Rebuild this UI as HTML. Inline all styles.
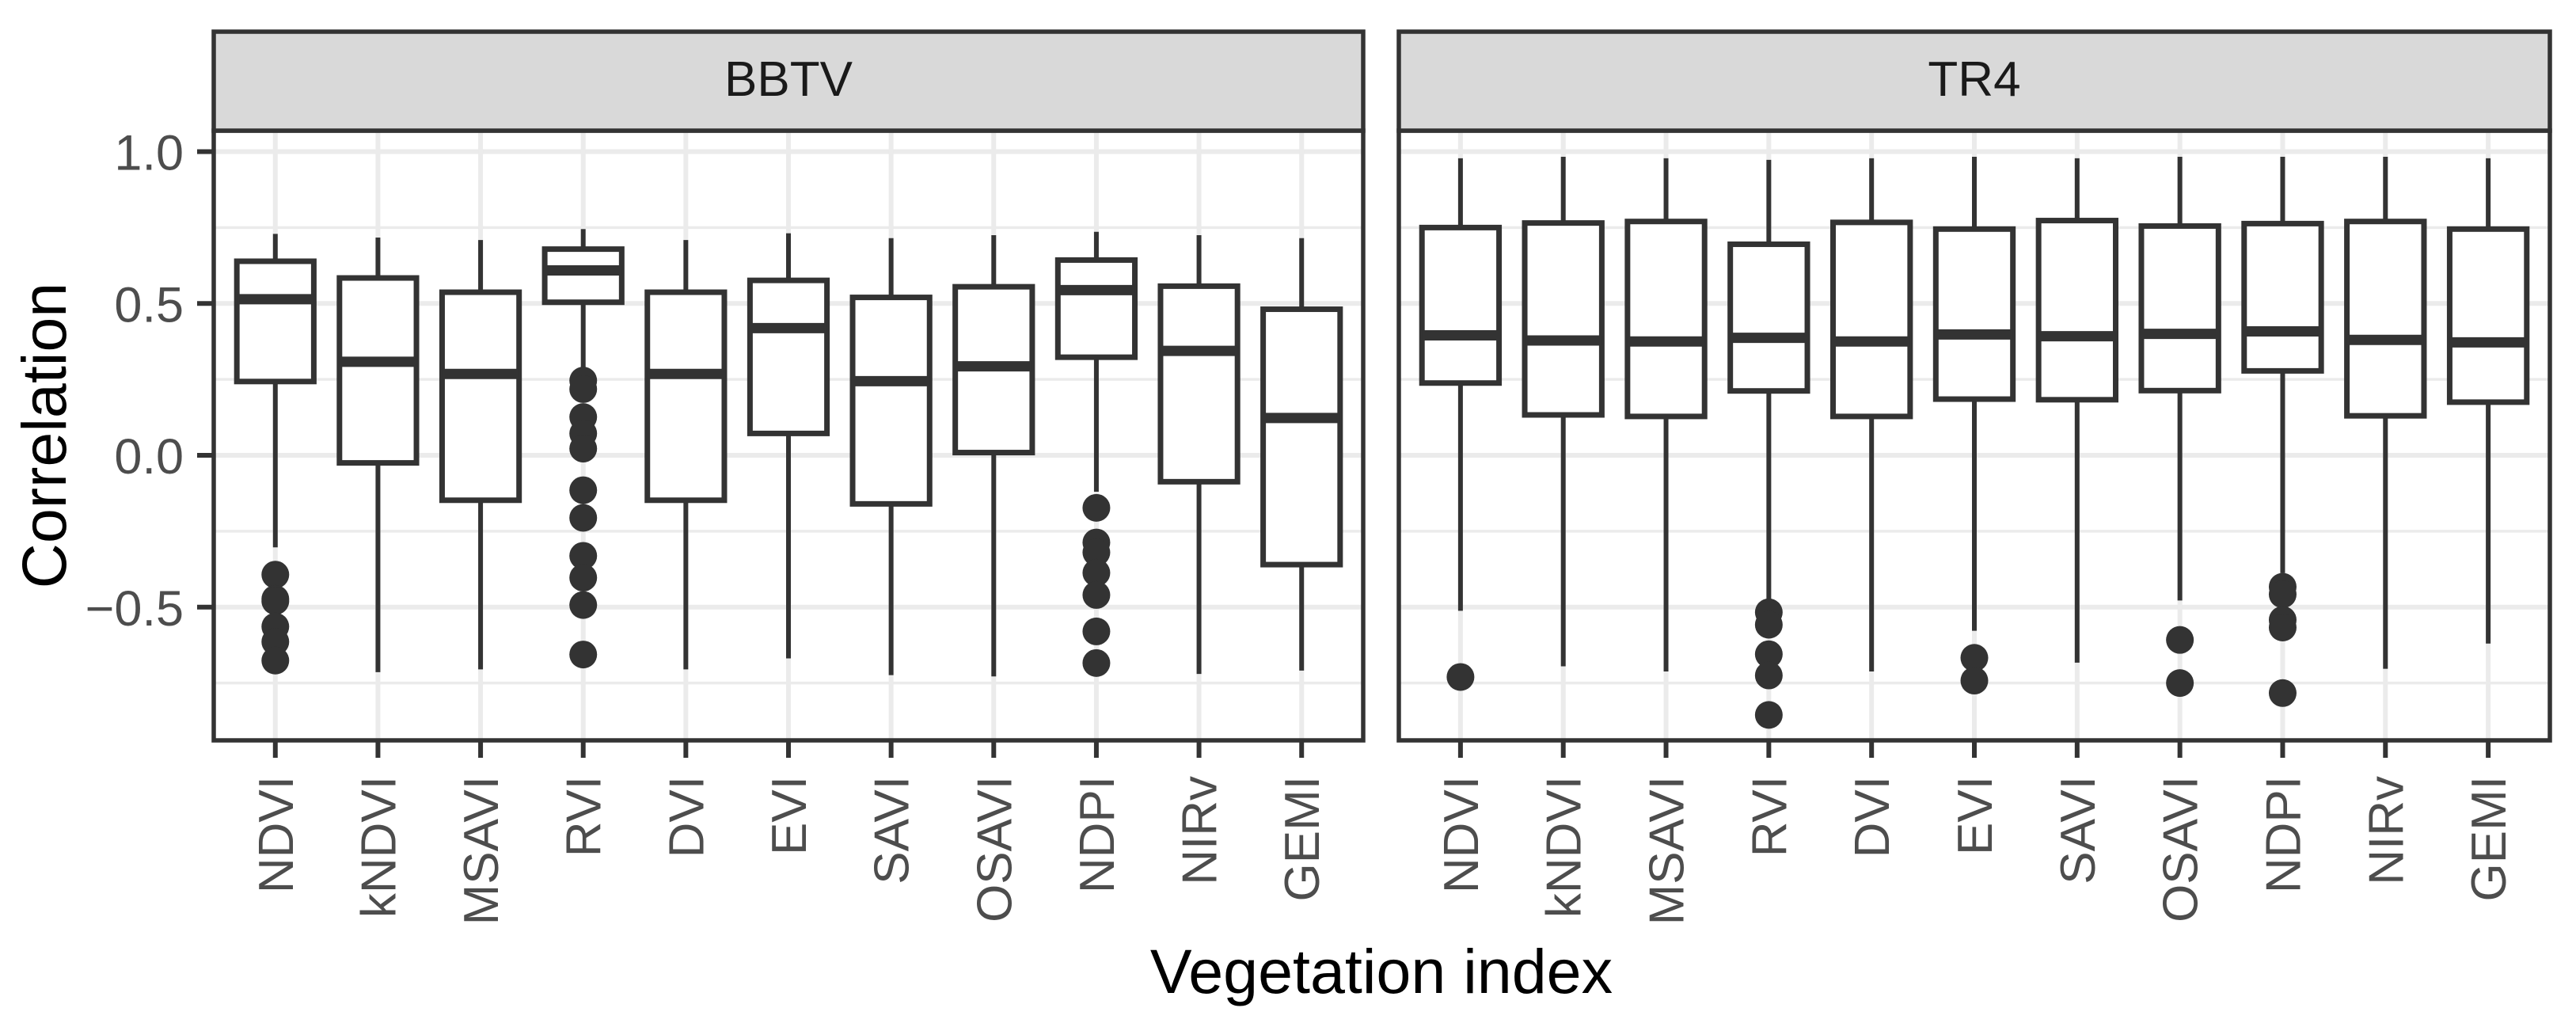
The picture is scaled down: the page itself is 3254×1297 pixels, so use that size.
<!DOCTYPE html>
<html><head><meta charset="utf-8">
<style>
html,body{margin:0;padding:0;background:#fff;}
svg{display:block;font-family:"Liberation Sans",Arial,sans-serif;}
</style></head>
<body>
<svg id="chart" width="3254" height="1297" viewBox="0 0 3254 1297" xmlns="http://www.w3.org/2000/svg"></svg>
<script>
const categories = ["NDVI","kNDVI","MSAVI","RVI","DVI","EVI","SAVI","OSAVI","NDPI","NIRv","GEMI"];
const panels = ["BBTV","TR4"];
const yTicks = [-0.5, 0.0, 0.5, 1.0];
const yTickLabels = ["\u22120.5","0.0","0.5","1.0"];
const yMinor = [-0.75,-0.25,0.25,0.75];
// BBTV stats: [lowerWhisker, Q1, median, Q3, upperWhisker]
const bbtvStats = [
  [-0.303,0.243,0.514,0.639,0.729],
  [-0.714,-0.025,0.308,0.584,0.717],
  [-0.705,-0.148,0.268,0.537,0.709],
  [0.276,0.504,0.609,0.679,0.745],
  [-0.705,-0.148,0.268,0.537,0.709],
  [-0.669,0.072,0.419,0.576,0.731],
  [-0.724,-0.16,0.244,0.52,0.715],
  [-0.728,0.009,0.293,0.555,0.725],
  [-0.12,0.323,0.544,0.643,0.736],
  [-0.72,-0.087,0.344,0.557,0.725],
  [-0.709,-0.36,0.123,0.481,0.715]
];
const bbtvOutliers = [
  [-0.393,-0.473,-0.48,-0.564,-0.614,-0.676],
  [],[],
  [0.246,0.218,0.126,0.072,0.022,-0.115,-0.206,-0.331,-0.403,-0.493,-0.656],
  [],[],[],[],
  [-0.173,-0.287,-0.32,-0.387,-0.46,-0.58,-0.684],
  [],[]
];
const tr4Stats = [
  [-0.512,0.238,0.395,0.75,0.978],
  [-0.695,0.133,0.378,0.765,0.983],
  [-0.712,0.128,0.375,0.77,0.978],
  [-0.475,0.212,0.387,0.695,0.973],
  [-0.712,0.128,0.375,0.767,0.978],
  [-0.578,0.185,0.398,0.745,0.983],
  [-0.683,0.183,0.392,0.773,0.978],
  [-0.478,0.213,0.4,0.755,0.983],
  [-0.388,0.278,0.408,0.763,0.983],
  [-0.703,0.13,0.38,0.77,0.983],
  [-0.62,0.175,0.372,0.745,0.978]
];
const tr4Outliers = [
  [-0.73],[],[],
  [-0.517,-0.558,-0.655,-0.725,-0.855],
  [],
  [-0.667,-0.742],
  [],
  [-0.608,-0.75],
  [-0.433,-0.458,-0.542,-0.567,-0.783],
  [],[]
];

const NS="http://www.w3.org/2000/svg";
const svg=document.getElementById('chart');
function mk(tag,attrs,parent){const e=document.createElementNS(NS,tag);for(const k in attrs)e.setAttribute(k,attrs[k]);(parent||svg).appendChild(e);return e;}

const panelTop=165, panelBottom=935, stripTop=40;
const y0px=575, unit=383.5;
function yScale(v){return y0px - v*unit;}
const panelX=[[270,1722],[1767,3221]];
function stepOf(p){const [a,b]=panelX[p];return (b-a)/(categories.length-1+1.2);}
function xScale(p,i){const step=stepOf(p);return panelX[p][0]+step*(0.6+i);}
const statsAll=[bbtvStats,tr4Stats], outAll=[bbtvOutliers,tr4Outliers];

panels.forEach((pn,p)=>{
  const [L,R]=panelX[p];
  const step=stepOf(p);
  const g=mk('g',{});
  
  
  yMinor.forEach(v=>{const l=mk('line',{x1:L,x2:R,y1:yScale(v),y2:yScale(v),stroke:'#ebebeb','stroke-width':3.5},g);
    });
  yTicks.forEach(v=>{const l=mk('line',{x1:L,x2:R,y1:yScale(v),y2:yScale(v),stroke:'#ebebeb','stroke-width':6},g);
    });
  categories.forEach((c,i)=>{const x=xScale(p,i);const l=mk('line',{x1:x,x2:x,y1:panelTop,y2:panelBottom,stroke:'#ebebeb','stroke-width':6},g);
    });
  const bw=step*0.75;
  categories.forEach((c,i)=>{
    const s=statsAll[p][i];const x=xScale(p,i);
    const bg=mk('g',{},g);
    
    
    mk('line',{x1:x,x2:x,y1:yScale(s[4]),y2:yScale(s[3]),stroke:'#333','stroke-width':6},bg);
    mk('line',{x1:x,x2:x,y1:yScale(s[1]),y2:yScale(s[0]),stroke:'#333','stroke-width':6},bg);
    mk('rect',{x:x-bw/2,y:yScale(s[3]),width:bw,height:yScale(s[1])-yScale(s[3]),fill:'#fff',stroke:'#333','stroke-width':7},bg);
    mk('line',{x1:x-bw/2,x2:x+bw/2,y1:yScale(s[2]),y2:yScale(s[2]),stroke:'#333','stroke-width':13},bg);
    outAll[p][i].forEach(v=>{const o=mk('circle',{cx:x,cy:yScale(v),r:17.5,fill:'#333'},bg);
      });
  });
  const br=mk('rect',{x:L,y:panelTop,width:R-L,height:panelBottom-panelTop,fill:'none',stroke:'#333','stroke-width':5.5},g);
  
  const st=mk('rect',{x:L,y:stripTop,width:R-L,height:panelTop-stripTop,fill:'#d9d9d9',stroke:'#333','stroke-width':5.5},g);
  
  const stt=mk('text',{x:(L+R)/2,y:121,'text-anchor':'middle','font-size':62,fill:'#1a1a1a'},g);
  stt.textContent=pn;
  
  categories.forEach((c,i)=>{const x=xScale(p,i);
    const t=mk('line',{x1:x,x2:x,y1:panelBottom,y2:panelBottom+22,stroke:'#333','stroke-width':6},g);
    
    const tx=mk('text',{x:0,y:0,'text-anchor':'end','font-size':62,fill:'#4d4d4d',transform:`translate(${x+22},980) rotate(-90)`},g);
    tx.textContent=c;
    
  });
});
yTicks.forEach((v,k)=>{
  const t=mk('line',{x1:249,x2:270,y1:yScale(v),y2:yScale(v),stroke:'#333','stroke-width':6});
  
  const tx=mk('text',{x:232,y:yScale(v)+23,'text-anchor':'end','font-size':63,fill:'#4d4d4d'});
  tx.textContent=yTickLabels[k];
  
});
const yt=mk('text',{x:0,y:0,'text-anchor':'middle','font-size':79,fill:'#000',transform:'translate(83,550) rotate(-90)'});
yt.textContent='Correlation';

const xt=mk('text',{x:1745,y:1254,'text-anchor':'middle','font-size':79,fill:'#000'});
xt.textContent='Vegetation index';

</script>
</body></html>
